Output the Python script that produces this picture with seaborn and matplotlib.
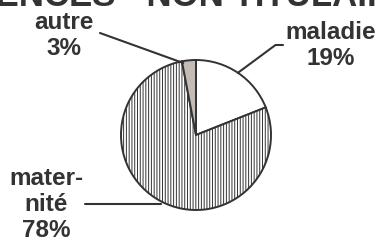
import matplotlib
matplotlib.use("Agg")
import matplotlib.pyplot as plt
import seaborn as sns

# data
categories = ["maladie", "maternité", "autre"]
labels = ["maladie\n19%", "mater-\nnité\n78%", "autre\n3%"]
values = [19, 78, 3]
colors = ["white", "white", "#c4bab6"]
hatches = ["", "||||||", ""]

sns.set_theme(style="white")
plt.rcParams["font.family"] = ["Liberation Sans", "DejaVu Sans"]
plt.rcParams["hatch.linewidth"] = 0.7

fig = plt.figure(figsize=(3.79, 2.4), dpi=100)
fig.patch.set_facecolor("white")
# pie centred at (196,135) px, radius 75 px
ax = fig.add_axes([121 / 379, (240 - 135 - 75) / 240, 150 / 379, 150 / 240])

wedges, _ = ax.pie(values, colors=colors, startangle=90, counterclock=False,
                   wedgeprops=dict(edgecolor="#333333", linewidth=1.4))
for w, h in zip(wedges, hatches):
    w.set_hatch(h)
ax.set_xlim(-1, 1)
ax.set_ylim(-1, 1)
ax.set_aspect("equal")
ax.axis("off")

txt = dict(color="#333333", fontsize=17.5, fontweight="bold",
           ha="center", va="center", linespacing=1.17)
# labels + leader lines
ax.text(1.80, 1.19, labels[0], **txt)
ax.plot([0.56, 1.06, 1.16], [0.83, 1.20, 1.20], color="#333333", lw=1.5, clip_on=False)

ax.text(-2.0, -0.93, labels[1], **txt)
ax.plot([-1.48, -0.47], [-0.92, -0.92], color="#333333", lw=1.5, clip_on=False)

ax.text(-1.76, 1.33, labels[2], **txt)
ax.plot([-1.28, -0.17], [1.36, 0.96], color="#333333", lw=1.5, clip_on=False)

fig.text(180, 234, "ABSENCES - NON TITULAIRES", transform=None,
         color="#333333", fontsize=25, fontweight="bold", ha="center", va="baseline")

fig.savefig("out.png", dpi=100)
